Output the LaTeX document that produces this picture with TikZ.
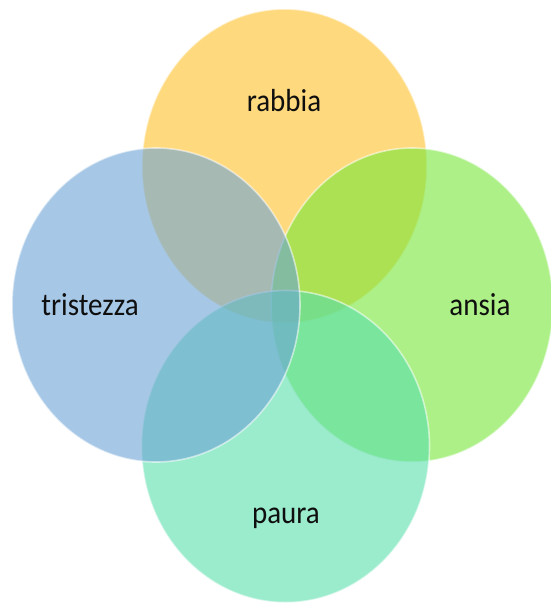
\documentclass[tikz,border=0pt]{standalone}
\usepackage{fontspec}
\setmainfont{Carlito}
\usepackage{tikz}
\usetikzlibrary{positioning,calc}
\usepackage{xcolor}
\definecolor{rabbiacol}{RGB}{255,192,38}
\definecolor{ansiacol}{RGB}{117,230,55}
\definecolor{pauracol}{RGB}{88,222,172}
\definecolor{tristcol}{RGB}{107,163,213}
\definecolor{labelcol}{RGB}{15,15,15}
\tikzset{
  bubble/.style={fill=#1,fill opacity=0.6,draw=white,draw opacity=0.55,line width=1.6pt},
  emo/.style={font=\fontsize{29}{32}\selectfont,text=labelcol,inner sep=0pt}
}
\newcommand{\emotxt}[1]{\scalebox{1}[1.1]{#1}}

\begin{document}
\begin{tikzpicture}[x=1pt,y=-1pt]
      \useasboundingbox (0,0) rectangle (551,606);
      % centres of the four circles
      \coordinate (cr) at (284.5,166);
      \coordinate (ca) at (412,305);
      \coordinate (cp) at (285.5,446.5);
      \coordinate (ct) at (156,305);

      \draw[bubble=rabbiacol] (cr) ellipse [x radius=142.5pt,y radius=157pt];
      \draw[bubble=ansiacol] (ca) ellipse [x radius=141pt,y radius=157pt];
      \draw[bubble=pauracol] (cp) ellipse [x radius=144pt,y radius=156pt];
      \draw[bubble=tristcol] (ct) ellipse [x radius=144pt,y radius=157pt];

      \node[emo] (rabbia) at (284,101) {\emotxt{rabbia}};
      \node[emo] (ansia) at (480,305) {\emotxt{ansia}};
      \node[emo] (paura) at (286,518) {\emotxt{paura}};
      \node[emo] (tristezza) at (90,305) {\emotxt{tristezza}};
    \end{tikzpicture}
\end{document}
